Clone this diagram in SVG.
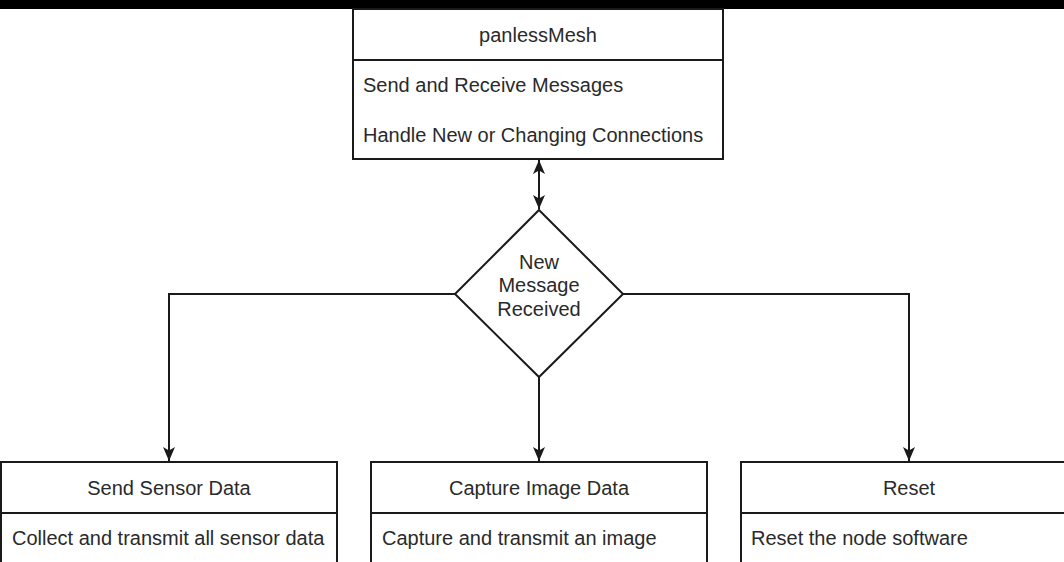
<svg xmlns="http://www.w3.org/2000/svg" width="1064" height="562" viewBox="0 0 1064 562">
  <style>
    .box { fill: #ffffff; stroke: #1a1a1a; stroke-width: 2; }
    .div { stroke: #1a1a1a; stroke-width: 2; fill: none; }
    .conn { stroke: #1a1a1a; stroke-width: 2; fill: none; }
    .t { font-family: "Liberation Sans", Arial, sans-serif; font-size: 20px; fill: #2a2a2a; }
    .c { text-anchor: middle; }
  </style>
  <defs>
    <marker id="arrow" viewBox="0 0 14 14" refX="14" refY="7" markerWidth="14" markerHeight="14" markerUnits="userSpaceOnUse" orient="auto-start-reverse">
      <path d="M0,1 L14,7 L0,13 L3.5,7 z" fill="#1a1a1a"/>
    </marker>
  </defs>
  <rect x="0" y="0" width="1064" height="562" fill="#ffffff"/>
  <rect x="0" y="0" width="1064" height="9" fill="#000000"/>

  <g id="connectors">
    <path class="conn" d="M539,160 V209" marker-start="url(#arrow)" marker-end="url(#arrow)"/>
    <path class="conn" d="M455,294 H169 V461" marker-end="url(#arrow)"/>
    <path class="conn" d="M539,377 V461" marker-end="url(#arrow)"/>
    <path class="conn" d="M623,294 H909 V461" marker-end="url(#arrow)"/>
  </g>

  <g id="panlessMesh">
    <rect class="box" x="353" y="9" width="370" height="150"/>
    <line class="div" x1="353" y1="60" x2="723" y2="60"/>
    <text class="t c" x="538" y="42">panlessMesh</text>
    <text class="t" x="363" y="92">Send and Receive Messages</text>
    <text class="t" x="363" y="142">Handle New or Changing Connections</text>
  </g>

  <g id="newMessage">
    <polygon class="box" points="539,210 623,294 539,377 455,294"/>
    <text class="t c" x="539" y="269">New</text>
    <text class="t c" x="539" y="292">Message</text>
    <text class="t c" x="539" y="316">Received</text>
  </g>

  <g id="sendSensorData">
    <rect class="box" x="1" y="462" width="336" height="120"/>
    <line class="div" x1="1" y1="513" x2="337" y2="513"/>
    <text class="t c" x="169" y="495">Send Sensor Data</text>
    <text class="t" x="12" y="545">Collect and transmit all sensor data</text>
  </g>

  <g id="captureImageData">
    <rect class="box" x="371" y="462" width="336" height="120"/>
    <line class="div" x1="371" y1="513" x2="707" y2="513"/>
    <text class="t c" x="539" y="495">Capture Image Data</text>
    <text class="t" x="382" y="545">Capture and transmit an image</text>
  </g>

  <g id="reset">
    <rect class="box" x="741" y="462" width="336" height="120"/>
    <line class="div" x1="741" y1="513" x2="1077" y2="513"/>
    <text class="t c" x="909" y="495">Reset</text>
    <text class="t" x="751" y="545">Reset the node software</text>
  </g>
</svg>
